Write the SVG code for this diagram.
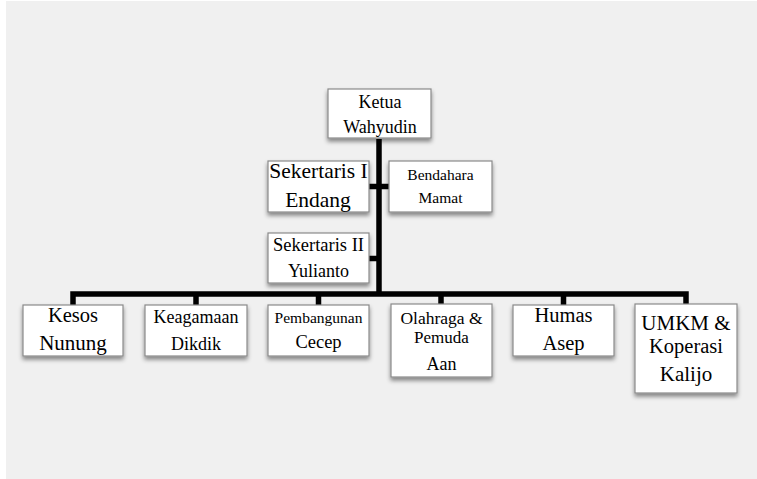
<svg xmlns="http://www.w3.org/2000/svg" width="757" height="479" viewBox="0 0 757 479" font-family="'Liberation Serif', 'DejaVu Serif', serif">
<style>
.box{fill:#ffffff;stroke:#8a8a8a;stroke-width:1.2;filter:url(#sh)}
text{font-family:'Liberation Serif','DejaVu Serif',serif;fill:#000;text-anchor:middle}
.ln{stroke:#000;stroke-width:5.5;fill:none;stroke-linejoin:miter}
</style>
<defs>
<filter id="sh" x="-20%" y="-20%" width="140%" height="150%">
<feDropShadow dx="0" dy="3" stdDeviation="2" flood-color="#000" flood-opacity="0.45"/>
</filter>
</defs>
<rect x="6" y="1" width="751" height="478" fill="#f0f0f0"/>
<g id="connectors">
<path class="ln" d="M379 139 V294"/>
<path class="ln" d="M369 186.5 H389"/>
<path class="ln" d="M369 258.5 H379"/>
<path class="ln" d="M73 305 V294 H686 V304"/>
<path class="ln" d="M196 294 V305"/>
<path class="ln" d="M318.5 294 V305"/>
<path class="ln" d="M441 294 V304"/>
<path class="ln" d="M563.5 294 V305"/>
</g>
<g id="ketua">
<rect class="box" x="328" y="89" width="103" height="49"/>
<text x="380" y="108" font-size="18">Ketua</text>
<text x="380" y="133" font-size="18">Wahyudin</text>
</g>
<g id="sekertaris1">
<rect class="box" x="268" y="161" width="101" height="51"/>
<text x="318.5" y="178" font-size="21.5">Sekertaris I</text>
<text x="318" y="207" font-size="21.5">Endang</text>
</g>
<g id="bendahara">
<rect class="box" x="389" y="161" width="103" height="51"/>
<text x="440.5" y="180" font-size="15.5">Bendahara</text>
<text x="440.5" y="203" font-size="15.5">Mamat</text>
</g>
<g id="sekertaris2">
<rect class="box" x="268" y="233" width="101" height="50"/>
<text x="318.5" y="251" font-size="18.5">Sekertaris II</text>
<text x="318.5" y="277" font-size="18">Yulianto</text>
</g>
<g id="kesos">
<rect class="box" x="23" y="305" width="100" height="51"/>
<text x="73" y="322" font-size="20.5">Kesos</text>
<text x="73" y="350" font-size="21">Nunung</text>
</g>
<g id="keagamaan">
<rect class="box" x="145" y="305" width="102" height="51"/>
<text x="196" y="323" font-size="18">Keagamaan</text>
<text x="196" y="350" font-size="18">Dikdik</text>
</g>
<g id="pembangunan">
<rect class="box" x="268" y="305" width="101" height="51"/>
<text x="318.5" y="323" font-size="15.5">Pembangunan</text>
<text x="318.5" y="348" font-size="18.5">Cecep</text>
</g>
<g id="olahraga">
<rect class="box" x="391" y="304" width="101" height="73"/>
<text x="441.5" y="324" font-size="17.5">Olahraga &amp;</text>
<text x="441.5" y="343" font-size="17">Pemuda</text>
<text x="441.5" y="370" font-size="18">Aan</text>
</g>
<g id="humas">
<rect class="box" x="513" y="305" width="101" height="51"/>
<text x="563.5" y="322" font-size="20.5">Humas</text>
<text x="563.5" y="350" font-size="20.5">Asep</text>
</g>
<g id="umkm">
<rect class="box" x="635" y="304" width="102" height="89"/>
<text x="686" y="330" font-size="21">UMKM &amp;</text>
<text x="686" y="353" font-size="20.5">Koperasi</text>
<text x="686" y="381" font-size="21">Kalijo</text>
</g>
</svg>
